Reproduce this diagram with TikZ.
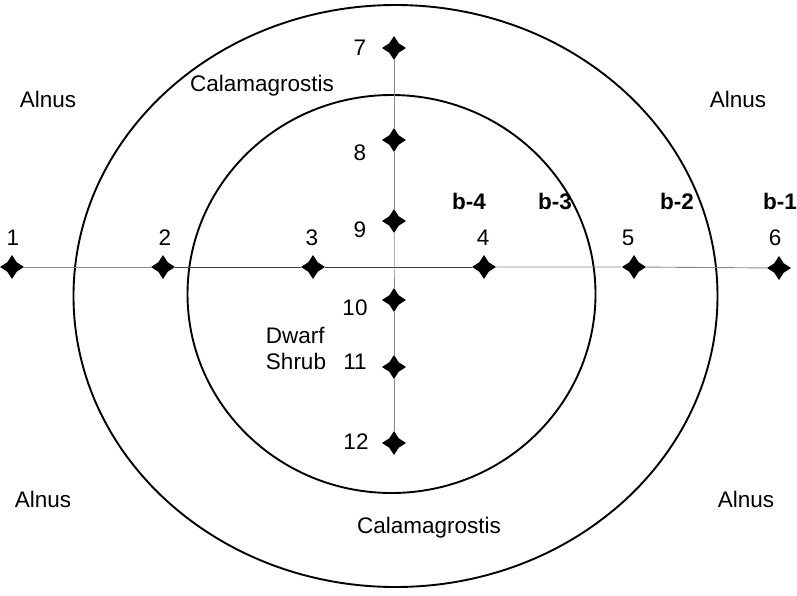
\documentclass[tikz,border=0pt]{standalone}
\usepackage{fontspec}
\setmainfont{Liberation Sans}
\usetikzlibrary{shapes.geometric}
\usepackage{xcolor}
\definecolor{axis}{HTML}{8A8A8A}

\tikzset{
  station/.style={shape=star,star points=4,star point ratio=1.8,fill=black,draw=none,inner sep=0pt,minimum size=24pt},
  ring/.style={draw=black,line width=1.9pt},
  num/.style={font=\fontsize{22.5}{26}\selectfont,inner sep=0pt},
  belt/.style={font=\fontsize{22.5}{26}\selectfont\bfseries,inner sep=0pt},
  zone/.style={font=\fontsize{22.5}{26}\selectfont,inner sep=0pt,align=left}
}

\begin{document}
\begin{tikzpicture}[x=1pt,y=-1pt]
        \useasboundingbox (0,0) rectangle (797,595);
        % vegetation rings
        \draw[ring] (395.5,296) ellipse [x radius=322,y radius=291];
        \draw[ring] (391.5,294) ellipse [x radius=204,y radius=199];
        % transect stations
        \node[station] (p1) at (12,267) {};
        \node[station] (p2) at (163,267) {};
        \node[station] (p3) at (313,267) {};
        \node[station] (p4) at (484,267) {};
        \node[station] (p5) at (634,267) {};
        \node[station] (p6) at (779,268) {};
        \node[station] (p7) at (394,48) {};
        \node[station] (p8) at (394,140) {};
        \node[station] (p9) at (394,221) {};
        \node[station] (p10) at (394,300) {};
        \node[station] (p11) at (394,367) {};
        \node[station] (p12) at (394,443) {};
        \coordinate (mid) at (394,267);
        % transect lines
        \draw[axis,line width=0.9pt] (p1) -- (p2);
        \draw[black!75,line width=1pt] (p2) -- (p3) -- (p4);
        \draw[axis,line width=0.9pt] (p4) -- (p5) -- (p6);
        \draw[axis,line width=0.9pt] (p7) -- (p8) -- (p9) -- (mid) -- (p10) -- (p11) -- (p12);
        % station numbers
        \node[num] (n1) at (13,238) {1};
        \node[num] (n2) at (165,238) {2};
        \node[num] (n3) at (312,238) {3};
        \node[num] (n4) at (483,238) {4};
        \node[num] (n5) at (628,238) {5};
        \node[num] (n6) at (775,238) {6};
        \node[num] (n7) at (360,48) {7};
        \node[num] (n8) at (360,153) {8};
        \node[num] (n9) at (360,230) {9};
        \node[num] (n10) at (355,308) {10};
        \node[num] (n11) at (355,362) {11};
        \node[num] (n12) at (356,442) {12};
        % belts
        \node[belt] (b4) at (469,201) {b-4};
        \node[belt] (b3) at (555,201) {b-3};
        \node[belt] (b2) at (677,201) {b-2};
        \node[belt] (b1) at (780,201) {b-1};
        % zones
        \node[zone] (alnTL) at (48,99) {Alnus};
        \node[zone] (alnTR) at (738,99) {Alnus};
        \node[zone] (alnBL) at (43,499) {Alnus};
        \node[zone] (alnBR) at (746,499) {Alnus};
        \node[zone] (calT) at (262,86) {Calamagrostis};
        \node[zone] (calB) at (429,528) {Calamagrostis};
        \node[zone] (shrub) at (296,348) {Dwarf\\Shrub};
      \end{tikzpicture}
\end{document}
